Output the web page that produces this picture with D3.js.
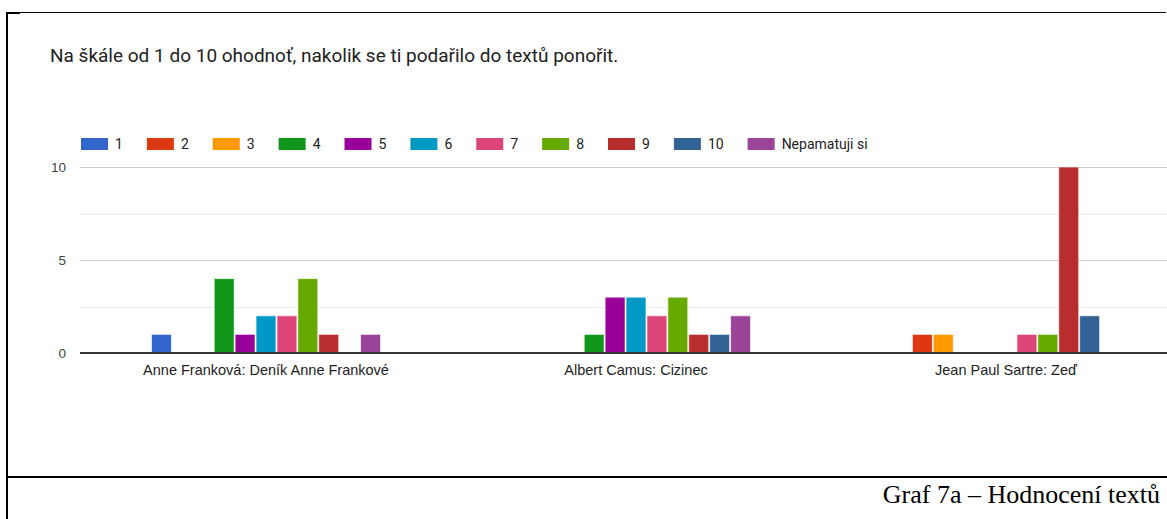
<!DOCTYPE html>
<html>
<head>
<meta charset="utf-8">
<script src="https://cdn.jsdelivr.net/npm/d3@7"></script>
<style>
  body { margin: 0; background: #fff; }
  svg { display: block; }
</style>
</head>
<body>
<div id="chart"></div>
<script>
const w = 1167;
const h = 519;

const categories = ["Anne Franková: Deník Anne Frankové", "Albert Camus: Cizinec", "Jean Paul Sartre: Zeď"];
const seriesNames = ["1", "2", "3", "4", "5", "6", "7", "8", "9", "10", "Nepamatuji si"];
const annaValues = [1, 0, 0, 4, 1, 2, 2, 4, 1, 0, 1];
const camusValues = [0, 0, 0, 1, 3, 3, 2, 3, 1, 1, 2];
const sartreValues = [0, 1, 1, 0, 0, 0, 1, 1, 10, 2, 0];
const yTicks = [0, 5, 10];
const yGrid = [2.5, 7.5];

const colors = ["#3366cc", "#dc3912", "#ff9900", "#109618", "#990099", "#0099c6", "#dd4477", "#66aa00", "#b82e2e", "#316395", "#994499"];

const rows = [annaValues, camusValues, sartreValues];
const data = categories.map((c, i) => ({
  cat: c,
  values: seriesNames.map((s, j) => ({ key: s, value: rows[i][j] }))
}));

const svg = d3.select("#chart").append("svg")
  .attr("width", w)
  .attr("height", h);

// page frame lines
svg.append("line").attr("x1", 6).attr("x2", 1166).attr("y1", 12.5).attr("y2", 12.5)
  .attr("stroke", "#000").attr("stroke-width", 1);
svg.append("line").attr("x1", 6).attr("x2", 20).attr("y1", 13).attr("y2", 13)
  .attr("stroke", "#000").attr("stroke-width", 2);
svg.append("line").attr("x1", 7).attr("x2", 7).attr("y1", 12).attr("y2", 519)
  .attr("stroke", "#000").attr("stroke-width", 2);
svg.append("line").attr("x1", 6).attr("x2", w).attr("y1", 477).attr("y2", 477)
  .attr("stroke", "#000").attr("stroke-width", 2);

// title
svg.append("text")
  .attr("x", 50)
  .attr("y", 62)
  .style("font-family", "Roboto, sans-serif")
  .style("font-size", "19px")
  .style("fill", "#212121")
  .text("Na škále od 1 do 10 ohodnoť, nakolik se ti podařilo do textů ponořit.");

const x0 = d3.scaleBand()
  .domain(categories)
  .range([81, 1191])
  .paddingInner(0.3784)
  .paddingOuter(0.1892);

const x1 = d3.scaleBand()
  .domain(seriesNames)
  .range([0, x0.bandwidth()]);

const y = d3.scaleLinear()
  .domain([0, 10])
  .range([353, 167]);

// gridlines
svg.append("g").selectAll("line")
  .data(yGrid)
  .enter().append("line")
  .attr("x1", 80).attr("x2", w)
  .attr("y1", d => Math.round(y(d)) + 0.5).attr("y2", d => Math.round(y(d)) + 0.5)
  .attr("stroke", "#ebebeb");

svg.append("g").selectAll("line")
  .data(yTicks.filter(d => d > 0))
  .enter().append("line")
  .attr("x1", 80).attr("x2", w)
  .attr("y1", d => Math.round(y(d)) + 0.5).attr("y2", d => Math.round(y(d)) + 0.5)
  .attr("stroke", "#cccccc");

// y axis
const yAxis = d3.axisLeft(y).tickValues(yTicks).tickSize(0).tickPadding(14);
const yg = svg.append("g")
  .attr("transform", "translate(80,0)")
  .call(yAxis);
yg.select(".domain").remove();
yg.selectAll("text")
  .style("font-family", "'Liberation Sans', Arial, sans-serif")
  .style("font-size", "13.5px")
  .style("fill", "#444");

// bars
const groups = svg.append("g").selectAll("g")
  .data(data)
  .enter().append("g")
  .attr("transform", d => `translate(${x0(d.cat)},0)`);

groups.selectAll("rect")
  .data(d => d.values.filter(v => v.value > 0))
  .enter().append("rect")
  .attr("x", d => x1(d.key) + 0.5)
  .attr("y", d => y(d.value))
  .attr("width", x1.bandwidth() - 1)
  .attr("height", d => y(0) - y(d.value))
  .attr("fill", d => colors[seriesNames.indexOf(d.key)])
  .attr("stroke", "#fff")
  .attr("stroke-opacity", 0.6)
  .attr("stroke-width", 1);

// baseline + x axis
svg.append("line")
  .attr("x1", 80).attr("x2", w)
  .attr("y1", y(0)).attr("y2", y(0))
  .attr("stroke", "#333").attr("stroke-width", 2);

const xAxis = d3.axisBottom(x0).tickSize(0).tickPadding(12);
const xg = svg.append("g")
  .attr("transform", `translate(0,${y(0)})`)
  .call(xAxis);
xg.select(".domain").remove();
xg.selectAll("text")
  .style("font-family", "'Liberation Sans', Arial, sans-serif")
  .style("font-size", "14.5px")
  .style("fill", "#222");

// legend
const legend = svg.append("g").attr("id", "legend");
let lx = 81;
seriesNames.forEach((s, i) => {
  legend.append("rect")
    .attr("x", lx).attr("y", 138)
    .attr("width", 27).attr("height", 12)
    .attr("fill", colors[i]);
  const t = legend.append("text")
    .attr("x", lx + 34).attr("y", 149)
    .style("font-family", "Roboto, sans-serif")
    .style("font-size", "14px")
    .style("fill", "#222")
    .text(s);
  lx += 34 + t.node().getComputedTextLength() + 24;
});

// caption
svg.append("text")
  .attr("x", 1160)
  .attr("y", 503)
  .attr("text-anchor", "end")
  .style("font-family", "'Liberation Serif', 'Times New Roman', serif")
  .style("font-size", "26px")
  .style("fill", "#000")
  .text("Graf 7a – Hodnocení textů");
</script>
</body>
</html>
